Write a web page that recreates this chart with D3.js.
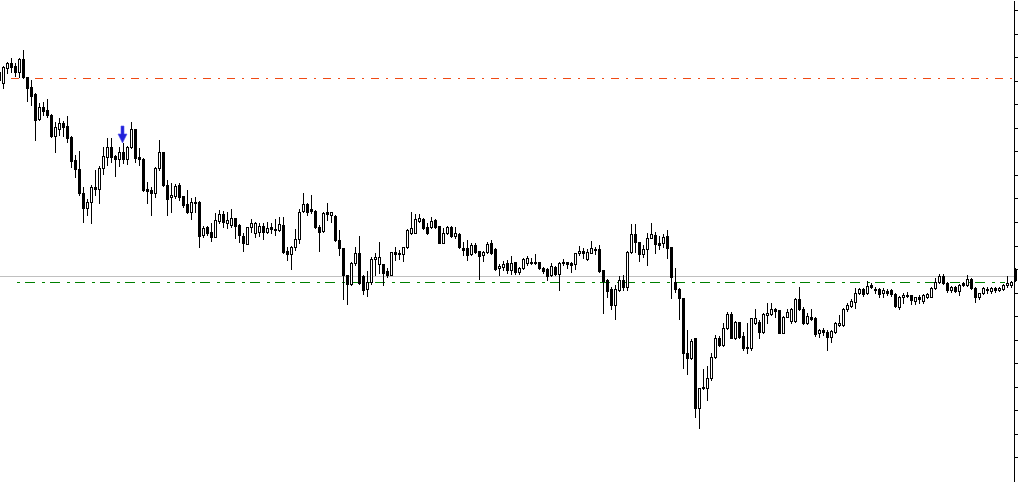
<!DOCTYPE html>
<html>
<head>
<meta charset="utf-8">
<script src="https://cdn.jsdelivr.net/npm/d3@7"></script>
<style>
html,body{margin:0;padding:0;background:#fff;overflow:hidden;}
svg{display:block;}
</style>
</head>
<body>
<svg id="chart" width="1018" height="482"></svg>
<script>
// OHLC values (price units), one entry per bar, left to right
const open = [420,
417,432,437,434,428,441,423,413,406,381,
393,390,385,364,371,377,374,363,340,331,
307,292,298,313,311,332,343,353,344,341,
348,341,353,371,343,341,311,310,307,332,
348,315,303,304,315,304,296,288,297,298,
265,273,268,263,279,286,277,275,282,275,
264,256,273,267,268,274,268,273,270,270,
275,249,246,253,261,289,296,291,289,273,
269,288,285,284,260,252,225,216,237,247,
224,211,218,241,236,236,229,225,248,246,
246,253,267,267,279,281,273,273,280,274,
257,267,273,264,266,252,252,246,255,249,
245,248,257,251,232,233,237,230,238,228,
232,237,238,237,238,232,231,225,233,226,
237,238,237,236,247,249,241,247,250,251,
230,220,211,195,210,220,213,248,266,258,
246,251,262,265,257,257,264,253,218,211,
202,147,142,162,92,113,112,122,143,162,
155,172,186,162,178,164,152,152,177,178,
168,185,186,191,190,167,183,179,179,201,
191,177,183,182,167,170,168,163,168,175,
175,191,194,198,207,211,207,215,210,211,
207,209,210,206,193,203,204,205,199,203,
199,203,203,212,218,224,217,210,213,209,
217,215,221,212,203,207,210,209,212,210,
211,215,215,231];
const high = [430,
434,438,442,437,442,450,423,420,407,397,
398,401,386,378,382,379,384,364,345,349,
313,301,315,330,334,353,362,362,345,353,
357,354,378,371,352,342,318,313,333,360,
348,320,317,316,317,304,310,302,303,299,
274,274,277,287,290,289,288,291,282,276,
267,273,281,278,277,277,278,277,281,283,
283,253,254,271,291,307,297,305,290,275,
288,297,288,285,270,252,225,238,253,264,
225,229,243,247,258,236,232,248,253,250,
253,271,288,286,286,282,277,283,281,274,
272,274,274,273,267,258,260,257,257,249,
249,258,260,252,236,239,240,244,238,233,
242,244,242,246,238,233,232,237,234,238,
241,238,238,247,254,252,251,259,253,255,
230,221,213,215,224,225,249,276,276,258,
255,267,277,268,264,266,270,253,232,212,
202,170,161,162,112,131,134,147,165,164,
177,188,188,179,178,168,177,182,191,180,
187,197,197,192,190,184,191,192,202,213,
193,187,191,183,171,172,170,170,178,185,
192,197,201,212,212,212,219,217,213,212,
212,211,211,207,204,207,208,205,203,205,
206,207,213,222,226,226,218,214,214,216,
218,225,222,213,207,213,213,213,213,213,
216,224,219,232];
const low = [418,
412,427,428,424,423,422,399,395,360,380,
385,383,363,348,365,364,358,333,323,305,
278,285,277,305,297,326,335,338,324,334,
337,336,352,338,335,309,297,285,303,330,
314,285,288,302,300,293,287,281,288,253,
263,265,259,263,277,273,272,273,262,258,
249,256,268,263,264,261,267,267,265,269,
247,240,231,250,257,288,285,287,272,249,
268,280,278,259,245,201,196,215,235,216,
206,204,216,225,227,215,223,225,240,241,
239,252,266,267,278,271,266,272,272,257,
257,266,263,262,252,245,240,245,247,221,
239,247,246,230,225,230,227,226,226,226,
231,235,236,236,231,227,220,224,225,210,
235,232,228,231,245,242,240,247,246,228,
187,203,191,181,209,210,210,247,248,239,
243,235,262,247,251,253,242,202,208,181,
132,126,141,83,72,111,100,120,142,154,
154,171,162,161,162,150,147,150,176,162,
167,177,185,183,167,167,183,177,178,190,
176,176,180,164,163,165,150,158,167,174,
174,189,193,192,206,204,206,212,207,203,
203,205,204,193,191,197,203,196,196,197,
197,202,203,211,217,216,208,208,208,205,
214,214,211,198,201,206,207,207,208,209,
210,213,213,219];
const close = [428,
433,437,433,428,441,423,412,404,380,393,
389,385,364,373,377,373,362,339,331,307,
292,298,313,311,332,344,353,343,341,348,
341,353,371,342,341,310,309,307,332,348,
315,301,305,314,303,295,288,298,298,264,
272,267,263,280,286,278,280,282,274,265,
257,273,277,277,274,268,272,271,271,276,
248,246,253,261,288,296,288,289,273,268,
287,286,288,260,252,225,216,237,247,217,
210,218,241,243,243,227,225,248,246,247,
253,270,272,281,282,272,267,279,273,257,
267,273,264,267,253,250,245,255,248,244,
248,256,247,231,234,236,230,237,228,232,
241,242,237,238,232,229,224,234,226,237,
238,236,235,247,249,247,248,252,251,229,
219,209,195,211,220,213,248,266,258,246,
251,262,266,256,255,263,252,223,211,202,
147,142,159,92,112,112,122,143,162,155,
172,186,162,178,163,152,153,182,182,168,
186,187,191,189,167,183,188,191,201,191,
177,184,181,166,170,168,163,169,177,177,
191,195,199,207,211,206,214,213,211,206,
210,207,206,194,203,205,205,200,203,201,
205,206,212,218,224,217,210,213,209,215,
215,221,212,203,207,212,211,212,210,212,
215,217,218,220];

// horizontal levels
const upperLevel = 422;   // orange dash-dot
const bidLevel = 224;     // grey solid
const lowerLevel = 218;   // green dash-dot
// signal arrow (bar index, price of arrow tip)
const arrowBar = 31, arrowPrice = 357;
// price-axis tick values (labels are cut off at the window edge)
const axisTicks = [490,466.5,442.9,419.4,395.8,372.3,348.7,325.2,301.6,278.1,254.5,231,207.4,183.9,160.3,136.8,113.2,89.7,66.1,42.6];

const W = 1018, H = 482, axisX = 1014;
const N = open.length;
const svg = d3.select("#chart");

const x = d3.scaleLinear().domain([0, N - 1]).range([-1, -1 + 4 * (N - 1)]);
const y = d3.scaleLinear().domain([18, 500]).range([H, 0]);

const gLines = svg.append("g");
// grey bid line
gLines.append("line")
  .attr("x1", 0).attr("x2", axisX)
  .attr("y1", Math.round(y(bidLevel)) + 0.5).attr("y2", Math.round(y(bidLevel)) + 0.5)
  .attr("stroke", "#c0c0c0").attr("stroke-width", 1);
// orange dash-dot
gLines.append("line")
  .attr("x1", 11).attr("x2", 1013)
  .attr("y1", Math.round(y(upperLevel)) + 0.5).attr("y2", Math.round(y(upperLevel)) + 0.5)
  .attr("stroke", "#f04a14").attr("stroke-width", 1)
  .attr("stroke-dasharray", "8,7,2,7");
// green dash-dot
gLines.append("line")
  .attr("x1", 10).attr("x2", 1005)
  .attr("y1", Math.round(y(lowerLevel)) + 0.5).attr("y2", Math.round(y(lowerLevel)) + 0.5)
  .attr("stroke", "#008000").attr("stroke-width", 1)
  .attr("stroke-dasharray", "10,7,3,5").attr("stroke-dashoffset", 10);

// candles
const idx = d3.range(N);
const gC = svg.append("g").attr("shape-rendering", "crispEdges");
const candle = gC.selectAll("g.c").data(idx).join("g").attr("class", "c");
candle.append("line")
  .attr("x1", i => Math.round(x(i)) + 0.5).attr("x2", i => Math.round(x(i)) + 0.5)
  .attr("y1", i => Math.round(y(high[i]))).attr("y2", i => Math.round(y(low[i])) + 1)
  .attr("stroke", "#000").attr("stroke-width", 1);
candle.append("rect")
  .attr("x", i => Math.round(x(i)) - 0.5)
  .attr("y", i => Math.round(y(Math.max(open[i], close[i]))) + 0.5)
  .attr("width", 2)
  .attr("height", i => Math.max(1, Math.round(y(Math.min(open[i], close[i]))) - Math.round(y(Math.max(open[i], close[i])))))
  .attr("fill", i => close[i] >= open[i] ? "#fff" : "#000")
  .attr("stroke", "#000").attr("stroke-width", 1);

// arrow
const ax = Math.round(x(arrowBar)) - 0.5, ay = y(arrowPrice);
svg.append("path")
  .attr("d", `M${ax-1.5},${ay-17} L${ax+1.5},${ay-17} L${ax+1.5},${ay-9} L${ax+4.5},${ay-9} L${ax},${ay} L${ax-4.5},${ay-9} L${ax-1.5},${ay-9} Z`)
  .attr("fill", "#2020d8").attr("stroke", "#5050f0").attr("stroke-width", 0.6);

// right price axis
const axis = d3.axisRight(y).tickValues(axisTicks).tickSize(4).tickSizeOuter(0).tickFormat("");
const gA = svg.append("g").attr("transform", `translate(${axisX},0)`).call(axis);
gA.selectAll("path,line").attr("stroke", "#000").attr("shape-rendering", "crispEdges");
</script>
</body>
</html>
